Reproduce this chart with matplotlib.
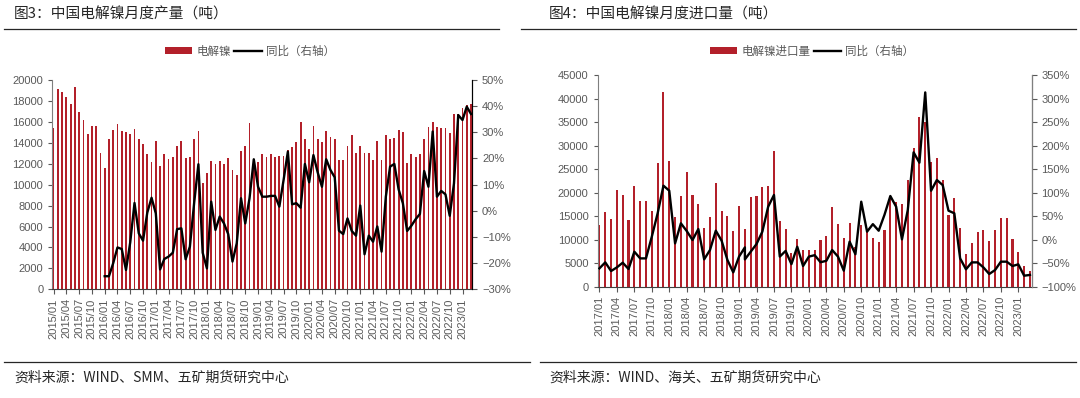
import matplotlib
matplotlib.use("Agg")
import matplotlib.pyplot as plt
import numpy as np
from matplotlib.lines import Line2D
from matplotlib.patches import Patch
from matplotlib.ticker import FuncFormatter

CJK = ["Noto Sans CJK SC", "DejaVu Sans"]
NUM = ["Liberation Sans", "DejaVu Sans"]
plt.rcParams["font.family"] = NUM


def month_labels(year, month, n):
    out = []
    for k in range(n):
        y = year + (month - 1 + k) // 12
        m = (month - 1 + k) % 12 + 1
        out.append(f"{y}/{m:02d}")
    return out


# ---------------- Figure 3: electrolytic nickel production ----------------
prod_months = month_labels(2015, 1, 99)          # 2015/01 .. 2023/03
prod_tons = [
    15400, 19100, 18900, 18350, 17750, 19350, 16950, 16150, 14850, 15650, 15650, 13000,
    11600, 14350, 15200, 15750, 15100, 15000, 14800, 15300, 14400, 13900, 12900, 12150,
    14200, 11800, 12900, 12450, 12600, 13700, 14150, 12500, 12600, 14350, 15100, 10200,
    11150, 12250, 11950, 12250, 11950, 12500, 11400, 10950, 13250, 13700, 15850, 12200,
    12150, 12900, 12600, 12900, 12600, 12700, 12700, 13300, 13550, 14100, 16000, 14400,
    13450, 15600, 14400, 14100, 15100, 14600, 14350, 12350, 12350, 13700, 14750, 13050,
    13700, 13000, 13000, 12400, 14200, 12350, 14750, 14350, 14500, 15200, 15050, 12050,
    12900, 12650, 12900, 14350, 15550, 16000, 15550, 15450, 15400, 14950, 16750, 16750,
    17300, 17650, 17700,
]
prod_yoy = [np.nan] * 12 + [
    -25, -25, -20, -14, -14.6, -22.6, -12, 3, -8.6, -11.4, -0.7, 5,
    -1, -22.4, -18.4, -17.5, -16, -7, -6.7, -18.5, -13.7, 3, 17.8, -16,
    -22, 3.5, -7.3, -2.2, -4.8, -8.9, -19.4, -12.4, 4.8, -4.8, 4.8, 19.7,
    9.2, 5.4, 5.4, 5.7, 5.7, 1.6, 11.8, 22.6, 2.5, 2.9, 1.2, 17.9,
    10.9, 21.3, 14.7, 9.2, 19.7, 15.6, 12.8, -7.6, -8.9, -2.9, -7.7, -9.5,
    2, -16.6, -9.5, -11.8, -6, -15.6, 5.4, 16.9, 17.9, 8.2, 2.9, -7.7,
    -5.7, -3.2, -1.2, 15.2, 9.2, 30.3, 5.4, 7.6, 6.3, -1.9, 10.5, 36.6,
    34.7, 39.8, 37,
]

# ---------------- Figure 4: electrolytic nickel imports ----------------
imp_axis_months = month_labels(2017, 1, 75)      # category axis 2017/01 .. 2023/03
imp_months = month_labels(2017, 1, 76)           # data months 2017/01 .. 2023/04
# the source sheet files 2019/03 under the 2019/02 category, later months one category early
imp_value_cats = imp_axis_months[:26] + imp_axis_months[25:]
imp_tons = [
    13100, 15950, 14300, 20550, 19500, 14250, 21400, 18200, 18200, 16150, 26300, 41400,
    26800, 14800, 19300, 24450, 19500, 17600, 12500, 14750, 21950, 16000, 15000, 11850,
    17100, 12260, 11500, 19130, 19280, 21120, 21330, 28840, 13890, 12260, 7230, 10130,
    7720, 7720, 7720, 9990, 10840, 16870, 13320, 10280, 13540, 8460, 13040, 11830,
    10420, 9430, 12050, 19260, 18070, 17500, 22680, 29410, 36000, 35080, 26580, 27290,
    22680, 15240, 18920, 12400, 6870, 9350, 11690, 12050, 9780, 12050, 14600, 14600,
    10060, 7300, 4390, 3400,
]
imp_yoy = [
    -61, -48.3, -66.7, -58.9, -49, -62.4, -25.6, -39.8, -39.8, 6.3, 55.9, 114.7,
    104.1, -7.9, 34.7, 18.4, -0.8, 22.6, -41.9, -22, 19.1, -2.2, -43.3, -69.5,
    -36, -16.4, -42, -25.6, -9.3, 17, 70, 95, -36, -24, -52, -15,
    -56, -36, -33, -48, -45, -22, -36, -66, -4.3, -31, 80.7, 17,
    33, 19, 53, 92.8, 70, 0.6, 63, 185.6, 163.6, 313, 104, 126.8,
    116, 61.6, 56, -39.8, -63, -48.3, -48.3, -59, -73, -64.6, -46.8, -46.8,
    -56, -52.5, -76.6, -75,
]

BAR = "#B3202A"
TXT = "#595959"
W, H = 1080, 398


def fx(px):
    return px / W


def fy(py):
    return 1 - py / H


def pct(v, _):
    v = int(round(v))
    return (f"\u2212{abs(v)}%" if v < 0 else f"{v}%")


def style_axes(ax, ax2, spine_right):
    for a in (ax, ax2):
        a.spines["top"].set_visible(False)
    ax.spines["left"].set_color("#7f7f7f")
    ax.spines["bottom"].set_color("#404040")
    ax2.spines["left"].set_visible(False)
    ax2.spines["bottom"].set_visible(False)
    ax2.spines["right"].set_color(spine_right)
    ax.tick_params(axis="y", labelsize=8, colors=TXT, length=3, width=0.8, direction="out")
    ax.tick_params(axis="x", labelsize=8, colors=TXT, length=3.5, width=0.8, direction="out",
                   pad=3)
    ax2.tick_params(axis="y", labelsize=8, colors=TXT, length=3.5, width=0.8, direction="out")
    for t in ax.get_xticklabels():
        t.set_rotation(90)
    ax2.yaxis.set_major_formatter(FuncFormatter(pct))


fig = plt.figure(figsize=(W / 100, H / 100), dpi=100)

# ---- left panel ----
axL = fig.add_axes([fx(52.3), fy(289.3), fx(420), 209.3 / H])
xL = np.arange(len(prod_months))
axL.bar(xL, prod_tons, width=0.42, color=BAR, linewidth=0)
axL.set_xlim(-0.3, len(prod_months) - 1 + 0.3)
axL.set_ylim(0, 20000)
axL.set_yticks(range(0, 20001, 2000))
axL.set_xticks(xL[::3])
axL.set_xticklabels(prod_months[::3])
axL2 = axL.twinx()
axL2.plot(xL, prod_yoy, color="black", lw=1.7, solid_joinstyle="round")
axL2.set_ylim(-30, 50)
axL2.set_yticks(range(-30, 51, 10))
style_axes(axL, axL2, "#000000")

# ---- right panel ----
axR = fig.add_axes([fx(597.7), fy(286.7), fx(434), 211.7 / H])
xR = np.array([imp_axis_months.index(m) for m in imp_value_cats])
axR.bar(xR, imp_tons, width=0.36, color=BAR, linewidth=0)
axR.set_xlim(-0.3, len(imp_axis_months) - 1 + 0.3)
axR.set_ylim(0, 45000)
axR.set_yticks(range(0, 45001, 5000))
tickpos = np.arange(0, len(imp_axis_months), 3)
axR.set_xticks(tickpos)
axR.set_xticklabels([imp_axis_months[i] for i in tickpos])
axR2 = axR.twinx()
axR2.plot(xR, imp_yoy, color="black", lw=1.7, solid_joinstyle="round")
axR2.set_ylim(-100, 350)
axR2.set_yticks(range(-100, 351, 50))
style_axes(axR, axR2, "#7f7f7f")

# ---- legends ----
for cx, lab in ((250, "电解镍"), (812, "电解镍进口量")):
    handles = [Patch(facecolor=BAR, edgecolor="none"),
               Line2D([], [], color="black", lw=1.7)]
    leg = fig.legend(handles, [lab, "同比（右轴）"], loc="center",
                     bbox_to_anchor=(fx(cx), fy(51)), ncol=2, frameon=False,
                     prop={"family": CJK, "size": 8.3}, handlelength=2.4,
                     handleheight=0.65, handletextpad=0.35, columnspacing=0.3,
                     borderpad=0)
    for t in leg.get_texts():
        t.set_color(TXT)

# ---- titles, rules and sources ----
fig.text(fx(14), fy(15), "图3：中国电解镍月度产量（吨）", family=CJK, fontsize=10.6,
         color="#262626", va="center", ha="left")
fig.text(fx(549), fy(15), "图4：中国电解镍月度进口量（吨）", family=CJK, fontsize=10.6,
         color="#262626", va="center", ha="left")
for x0, x1, yy in ((4, 499, 28.5), (521, 1076, 28.5), (4, 530, 362), (540, 1076, 362)):
    fig.add_artist(Line2D([fx(x0), fx(x1)], [fy(yy), fy(yy)], color="#262626", lw=0.9))
fig.text(fx(14), fy(378), "资料来源：WIND、SMM、五矿期货研究中心", family=CJK, fontsize=10,
         color="#262626", va="center", ha="left")
fig.text(fx(549), fy(378), "资料来源：WIND、海关、五矿期货研究中心", family=CJK, fontsize=10,
         color="#262626", va="center", ha="left")

fig.savefig("out.png", dpi=100)
